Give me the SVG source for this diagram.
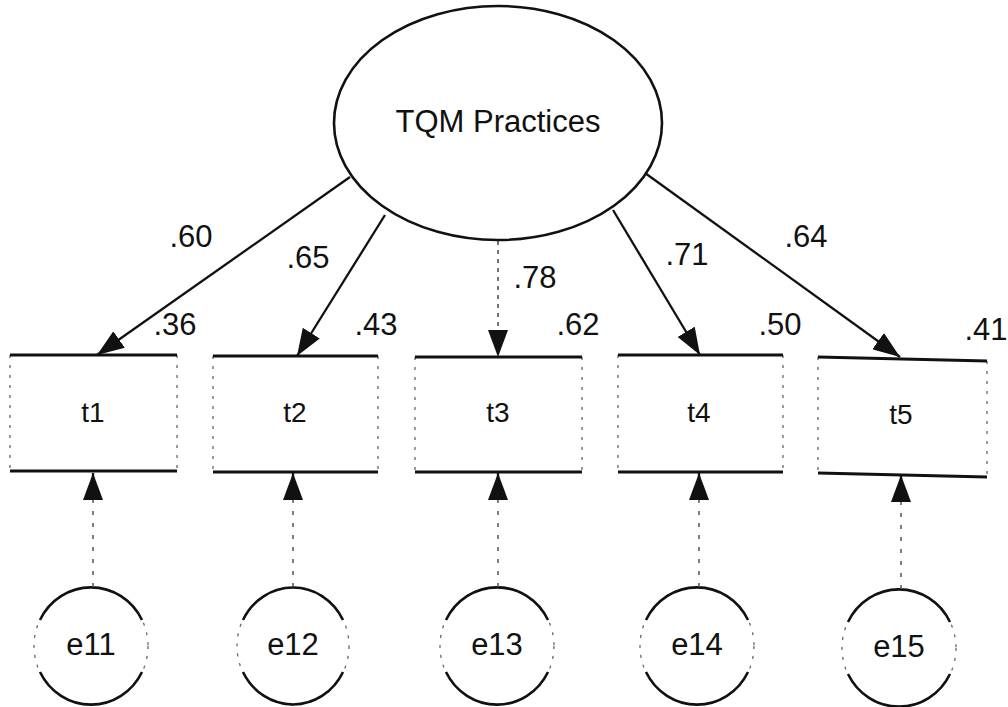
<svg xmlns="http://www.w3.org/2000/svg" width="1008" height="707" viewBox="0 0 1008 707">
  <style>
    text { font-family: "Liberation Sans", Arial, sans-serif; fill: #111; text-anchor: middle; }
    .lbl { font-size: 31px; }
    .name { font-size: 28px; }
    .latent { fill: #fff; stroke: #111; stroke-width: 2.6; }
    .edge { stroke: #111; stroke-width: 2.8; fill: none; }
    .side { stroke: #666; stroke-width: 1.3; stroke-dasharray: 3 7; fill: none; }
    .ring { stroke: #111; stroke-width: 2.6; fill: none; }
    .path { stroke: #111; stroke-width: 2.3; fill: none; marker-end: url(#head); }
    .path-dot { stroke: #444; stroke-width: 1.5; stroke-dasharray: 4 5; fill: none; marker-end: url(#head); }
    .err { stroke: #555; stroke-width: 1.5; stroke-dasharray: 4 8; fill: none; }
  </style>
  <defs>
    <marker id="head" viewBox="0 0 27 20" refX="27" refY="10" markerWidth="27" markerHeight="20" markerUnits="userSpaceOnUse" orient="auto">
      <path d="M0,0 L27,10 L0,20 Z" fill="#111"/>
    </marker>
  </defs>

  <!-- latent factor -->
  <g id="tqm">
    <ellipse class="latent" cx="498" cy="123" rx="164" ry="117"/>
    <text class="lbl" x="498" y="132">TQM Practices</text>
  </g>

  <!-- observed indicators: solid top/bottom rules, faint sides -->
  <g id="t1">
    <path class="side" d="M10,355 V471 M177,355 V471"/>
    <path class="edge" d="M10,355 H177 M10,471 H177"/>
    <text class="name" x="93" y="422">t1</text>
  </g>
  <g id="t2">
    <path class="side" d="M213,356 V472 M378,356 V472"/>
    <path class="edge" d="M213,356 H378 M213,472 H378"/>
    <text class="name" x="295" y="422">t2</text>
  </g>
  <g id="t3">
    <path class="side" d="M415,357 V472 M582,357 V472"/>
    <path class="edge" d="M415,357 H582 M415,472 H582"/>
    <text class="name" x="498" y="422">t3</text>
  </g>
  <g id="t4">
    <path class="side" d="M618,355 V472 M783,355 V472"/>
    <path class="edge" d="M618,355 H783 M618,472 H783"/>
    <text class="name" x="699" y="422">t4</text>
  </g>
  <g id="t5">
    <path class="side" d="M818,357 V473 M987,361 V477"/>
    <path class="edge" d="M818,357 L987,361 M818,473 L987,477"/>
    <text class="name" x="901" y="424">t5</text>
  </g>

  <!-- error terms -->
  <g id="e11">
    <ellipse class="side" cx="91" cy="646" rx="57" ry="59"/>
    <path class="ring" d="M40,620 A57,59 0 0 1 142,620 M40,672 A57,59 0 0 0 142,672"/>
    <text class="lbl" x="91" y="655">e11</text>
  </g>
  <g id="e12">
    <ellipse class="side" cx="293" cy="646" rx="56" ry="59"/>
    <path class="ring" d="M243,620 A56,59 0 0 1 343,620 M243,672 A56,59 0 0 0 343,672"/>
    <text class="lbl" x="293" y="655">e12</text>
  </g>
  <g id="e13">
    <ellipse class="side" cx="497" cy="646" rx="57" ry="59"/>
    <path class="ring" d="M446,620 A57,59 0 0 1 548,620 M446,672 A57,59 0 0 0 548,672"/>
    <text class="lbl" x="497" y="655">e13</text>
  </g>
  <g id="e14">
    <ellipse class="side" cx="697" cy="646" rx="57" ry="59"/>
    <path class="ring" d="M646,620 A57,59 0 0 1 748,620 M646,672 A57,59 0 0 0 748,672"/>
    <text class="lbl" x="697" y="655">e14</text>
  </g>
  <g id="e15">
    <ellipse class="side" cx="899" cy="648" rx="57" ry="59"/>
    <path class="ring" d="M848,622 A57,59 0 0 1 950,622 M848,674 A57,59 0 0 0 950,674"/>
    <text class="lbl" x="899" y="657">e15</text>
  </g>

  <!-- connectors -->
  <g id="connectors">
    <path class="path" d="M350,177 L97,355"/>
    <path class="path" d="M385,215 L297,356"/>
    <path class="path-dot" d="M498,241 L498,357"/>
    <path class="path" d="M613,210 L700,355"/>
    <path class="path" d="M645,173 L900,357"/>

    <path class="err" d="M93,587 V500"/>
    <path class="err" d="M293,587 V500"/>
    <path class="err" d="M498,587 V500"/>
    <path class="err" d="M699,587 V500"/>
    <path class="err" d="M901,589 V502"/>
    <path class="path" d="M93,500 V473"/>
    <path class="path" d="M293,500 V473"/>
    <path class="path" d="M498,500 V473"/>
    <path class="path" d="M699,500 V473"/>
    <path class="path" d="M901,502 V475"/>
  </g>

  <!-- loadings and squared multiple correlations -->
  <g id="labels">
    <text class="lbl" x="191" y="247">.60</text>
    <text class="lbl" x="308" y="268">.65</text>
    <text class="lbl" x="535" y="288">.78</text>
    <text class="lbl" x="687" y="265">.71</text>
    <text class="lbl" x="806" y="247">.64</text>
    <text class="lbl" x="175" y="335">.36</text>
    <text class="lbl" x="376" y="335">.43</text>
    <text class="lbl" x="578" y="335">.62</text>
    <text class="lbl" x="780" y="335">.50</text>
    <text class="lbl" x="986" y="340">.41</text>
  </g>
</svg>
